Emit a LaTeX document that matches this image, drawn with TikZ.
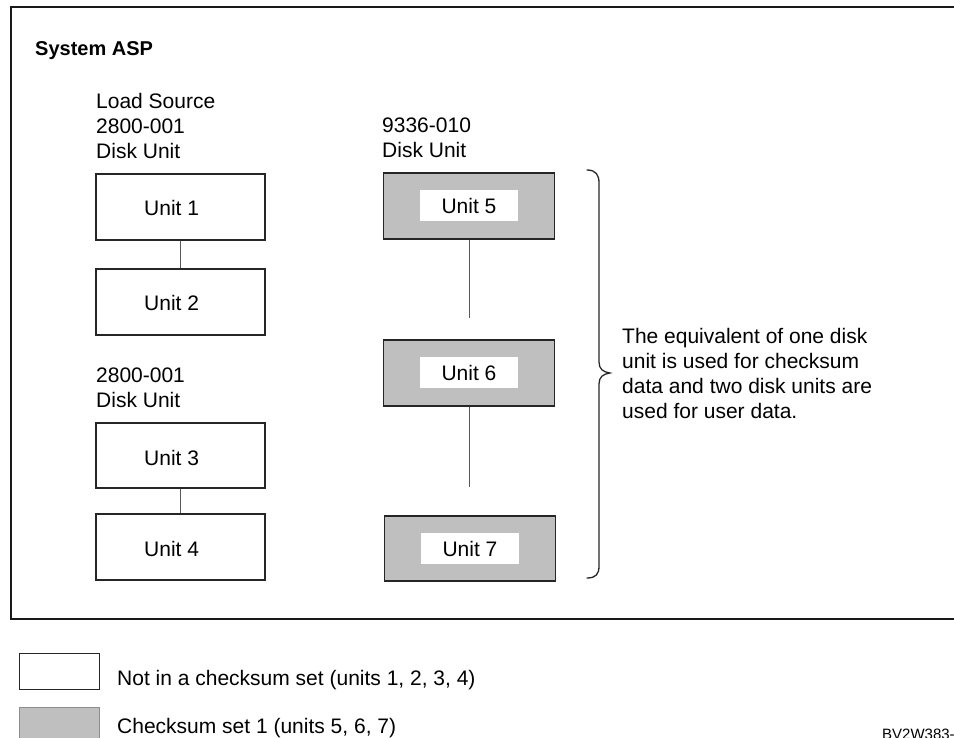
\documentclass[tikz,border=0pt]{standalone}
\usepackage{fontspec}
\setmainfont{Liberation Sans}
\begin{document}
\begin{tikzpicture}[x=1pt,y=-1pt,
  txt/.style={font=\fontsize{21}{25}\selectfont, inner sep=0pt, align=left},
  frame/.style={draw=black!90, line width=2pt},
  plainbox/.style={draw=black!85, line width=1.3pt, fill=white,
    minimum width=169pt, minimum height=66pt, inner sep=0pt},
  sumbox/.style={draw=black!85, line width=1.3pt, fill=black!25,
    minimum width=171pt, minimum height=66pt, inner sep=0pt},
  whitepad/.style={fill=white, minimum width=98pt, minimum height=31pt,
    inner sep=0pt, font=\fontsize{21}{25}\selectfont},
  link/.style={draw=black!65, line width=1pt},
  brace/.style={draw=black!85, line width=1.3pt, line cap=round}
]
\useasboundingbox (0,0) rectangle (954,738);

% outer frame of the ASP (open on the right)
\draw[frame] (956,7) -- (11,7) -- (11,619) -- (956,619);

\node[txt, anchor=base west, font=\bfseries\fontsize{20}{25}\selectfont] (title) at (35,56) {System ASP};

% load source disk unit
\node[txt, anchor=north west] (lsrc) at (96,93) {Load Source\\2800-001\\Disk Unit};
\node[plainbox] (u1) at (180.5,207) {};
\node[plainbox] (u2) at (180.5,302) {};
\node[txt, anchor=base west] (t1) at (144,216) {Unit 1};
\node[txt, anchor=base west] (t2) at (144,311) {Unit 2};
\draw[link] (u1) -- (u2);

% second 2800-001 disk unit
\node[txt, anchor=north west] (d2) at (96,368) {2800-001\\Disk Unit};
\node[plainbox, minimum height=65pt] (u3) at (180.5,455.5) {};
\node[plainbox] (u4) at (180.5,547) {};
\node[txt, anchor=base west] (t3) at (144,465) {Unit 3};
\node[txt, anchor=base west] (t4) at (144,556) {Unit 4};
\draw[link] (u3) -- (u4);

% 9336-010 disk unit, checksum set 1
\node[txt, anchor=north west] (d3) at (382,118) {9336-010\\Disk Unit};
\node[sumbox] (u5) at (469,206) {};
\node[sumbox] (u6) at (469,373) {};
\node[sumbox, minimum height=65pt] (u7) at (470,548.5) {};
\node[whitepad] (w5) at (469,205.5) {Unit 5};
\node[whitepad] (w6) at (469,372.5) {Unit 6};
\node[whitepad] (w7) at (470,548.5) {Unit 7};
\coordinate (e5) at (469,318);
\coordinate (e6) at (469,487);
\draw[link] (u5.south) -- (e5);
\draw[link] (u6.south) -- (e6);

% brace grouping the checksum set
\draw[brace] (587,170) .. controls (596,170) and (599,175) .. (599,183)
  -- (599,362) .. controls (599,369) and (603,372) .. (610,373)
  .. controls (603,374) and (599,377) .. (599,384)
  -- (599,566) .. controls (599,574) and (596,578) .. (587,578);

\node[txt, anchor=north west] (note) at (622,328)
  {The equivalent of one disk\\unit is used for checksum\\data and two disk units are\\used for user data.};

% legend
\node[draw=black!85, line width=1pt, fill=white, minimum width=80pt,
  minimum height=36pt, inner sep=0pt] (lg1) at (59,671) {};
\node[txt, anchor=base west] (lt1) at (117,685) {Not in a checksum set (units 1, 2, 3, 4)};
\node[draw=black!45, line width=0.6pt, fill=black!25, minimum width=80pt,
  minimum height=40pt, inner sep=0pt] (lg2) at (59,727) {};
\node[txt, anchor=base west] (lt2) at (117,733) {Checksum set 1 (units 5, 6, 7)};

\node[inner sep=0pt, anchor=base west, font=\fontsize{15}{18}\selectfont] (code) at (882,739) {BV2W383-};
\end{tikzpicture}
\end{document}
